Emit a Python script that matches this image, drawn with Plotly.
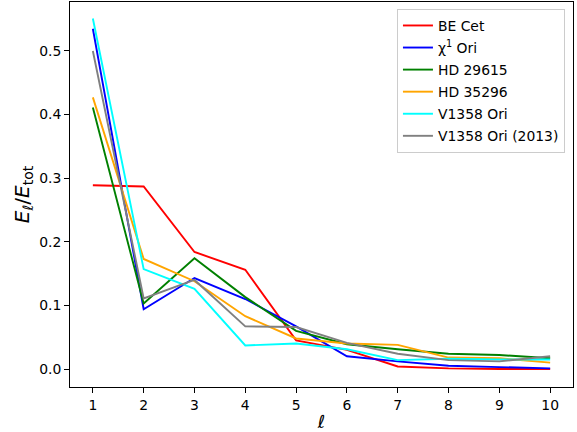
import plotly.graph_objects as go

ell = [1, 2, 3, 4, 5, 6, 7, 8, 9, 10]

be_cet = [0.289, 0.287, 0.184, 0.156, 0.045, 0.030, 0.004, 0.001, 0.000, 0.000]
chi1_ori = [0.535, 0.094, 0.143, 0.110, 0.067, 0.020, 0.012, 0.005, 0.003, 0.001]
hd29615 = [0.411, 0.103, 0.174, 0.113, 0.060, 0.039, 0.031, 0.024, 0.022, 0.017]
hd35296 = [0.427, 0.173, 0.138, 0.083, 0.048, 0.040, 0.038, 0.018, 0.017, 0.010]
v1358 = [0.551, 0.157, 0.126, 0.037, 0.040, 0.031, 0.014, 0.016, 0.015, 0.015]
v1358_2013 = [0.500, 0.111, 0.140, 0.067, 0.066, 0.041, 0.024, 0.014, 0.012, 0.020]

series = [
    ("BE Cet", be_cet, "red"),
    ("χ<sup>1</sup> Ori", chi1_ori, "blue"),
    ("HD 29615", hd29615, "green"),
    ("HD 35296", hd35296, "orange"),
    ("V1358 Ori", v1358, "cyan"),
    ("V1358 Ori (2013)", v1358_2013, "gray"),
]

y_ticks = [0.0, 0.1, 0.2, 0.3, 0.4, 0.5]

fig = go.Figure()
for i, (name, vals, color) in enumerate(series):
    fig.add_trace(go.Scatter(x=ell, y=vals, mode="lines", name=name,
                             legendgroup=f"g{i}",
                             line=dict(color=color, width=1.9)))

font = "DejaVu Sans"
fig.update_layout(
    width=577, height=432,
    margin=dict(l=70, r=4, t=2, b=45),
    plot_bgcolor="white", paper_bgcolor="white",
    font=dict(family=font, size=13.9, color="black"),
    showlegend=True,
    legend=dict(x=0.984, y=0.982, xanchor="right", yanchor="top",
                bgcolor="rgba(255,255,255,0.8)", bordercolor="#cccccc", borderwidth=1,
                tracegroupgap=1,
                font=dict(size=13.9, family=font)),
)
fig.update_xaxes(
    range=[0.55, 10.45], tickmode="array", tickvals=ell,
    showgrid=False, zeroline=False, showline=True, linecolor="black", linewidth=1,
    mirror=True, ticks="outside", ticklen=5, tickcolor="black",
    title=dict(text="<i>ℓ</i>", font=dict(size=18), standoff=4),
)
fig.update_yaxes(
    range=[-0.0283, 0.577], tickmode="array", tickvals=y_ticks, tickformat=".1f",
    showgrid=False, zeroline=False, showline=True, linecolor="black", linewidth=1,
    mirror=True, ticks="outside", ticklen=5, tickcolor="black",
    title=dict(text="<i>E</i><sub><i>ℓ</i></sub>/<i>E</i><sub>tot</sub>", font=dict(size=20), standoff=4),
)

fig.write_html("out.html", config={"displayModeBar": False},
               post_script="document.body.style.margin='0';document.body.style.overflow='hidden';")
